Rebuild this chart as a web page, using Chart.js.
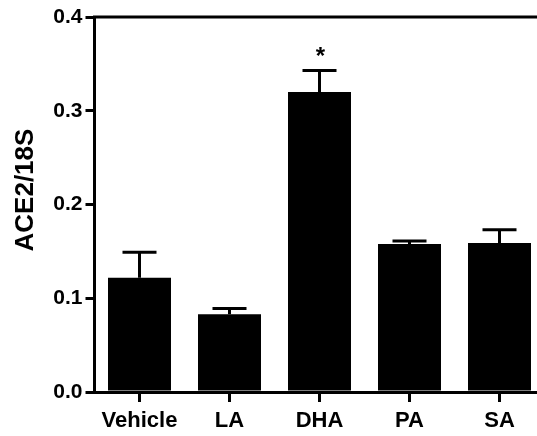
<!DOCTYPE html>
<html><head><meta charset="utf-8">
<script src="https://cdn.jsdelivr.net/npm/chart.js@4/dist/chart.umd.min.js"></script>
<style>html,body{margin:0;padding:0;overflow:hidden;background:#fff;width:537px;height:436px}canvas{display:block}</style>
</head><body>
<canvas id="c" width="560" height="436"></canvas>
<script>
const categories = ["Vehicle", "LA", "DHA", "PA", "SA"];
const means = [0.122, 0.083, 0.320, 0.158, 0.159];
const sem = [0.027, 0.006, 0.023, 0.003, 0.014];
const significance = ["", "", "*", "", ""];
const yTicks = [0.0, 0.1, 0.2, 0.3, 0.4];

const FONT = "'Liberation Sans', Arial, sans-serif";

const errPlugin = {
  id: 'err',
  afterDatasetsDraw(chart) {
    const ctx = chart.ctx, x = chart.scales.x, y = chart.scales.y;
    ctx.save();
    ctx.strokeStyle = '#000'; ctx.lineWidth = 3; ctx.lineCap = 'butt';
    means.forEach((m, i) => {
      const cx = x.getPixelForValue(i);
      const yt = y.getPixelForValue(m), ye = y.getPixelForValue(m + sem[i]);
      ctx.beginPath(); ctx.moveTo(cx, yt); ctx.lineTo(cx, ye);
      ctx.moveTo(cx - 17, ye); ctx.lineTo(cx + 17, ye); ctx.stroke();
      if (significance[i]) {
        ctx.fillStyle = '#000';
        ctx.font = "bold 24px " + FONT;
        ctx.textAlign = 'center'; ctx.textBaseline = 'alphabetic';
        ctx.fillText(significance[i], cx + 1, ye - 6);
      }
    });
    const ca = chart.chartArea;
    ctx.beginPath(); ctx.moveTo(ca.left - 1.5, y.getPixelForValue(0.4)); ctx.lineTo(chart.width, y.getPixelForValue(0.4)); ctx.stroke();
    ctx.restore();
  }
};

new Chart(document.getElementById('c'), {
  type: 'bar',
  data: { labels: categories, datasets: [{ data: means, backgroundColor: '#000', borderWidth: 0, barPercentage: 0.7, categoryPercentage: 1 }] },
  options: {
    responsive: false, animation: false,
    layout: { padding: { top: 17, right: 15.5, left: 0, bottom: 0 } },
    plugins: { legend: { display: false }, tooltip: { enabled: false } },
    scales: {
      x: {
        grid: { drawOnChartArea: false, offset: false, color: '#000', lineWidth: 3, tickLength: 10, tickWidth: 3 },
        border: { color: '#000', width: 3 },
        ticks: { color: '#000', font: { family: FONT, size: 22, weight: 'bold' }, padding: 6, maxRotation: 0, autoSkip: false },
        afterFit(s) { s.height = 44; }
      },
      y: {
        min: 0, max: 0.4,
        afterBuildTicks(s) { s.ticks = yTicks.map(v => ({ value: v })); },
        grid: { drawOnChartArea: false, color: '#000', lineWidth: 3, tickLength: 9, tickWidth: 3 },
        border: { color: '#000', width: 3 },
        ticks: { color: '#000', font: { family: FONT, size: 21, weight: 'bold' }, padding: 3, callback: v => v.toFixed(1) },
        title: { display: true, text: '    ACE2/18S', color: '#000', font: { family: FONT, size: 26, weight: 'bold' }, padding: { top: 10, bottom: 0 } },
        afterFit(s) { s.width = 94.5; }
      }
    }
  },
  plugins: [errPlugin]
});
</script>
</body></html>
